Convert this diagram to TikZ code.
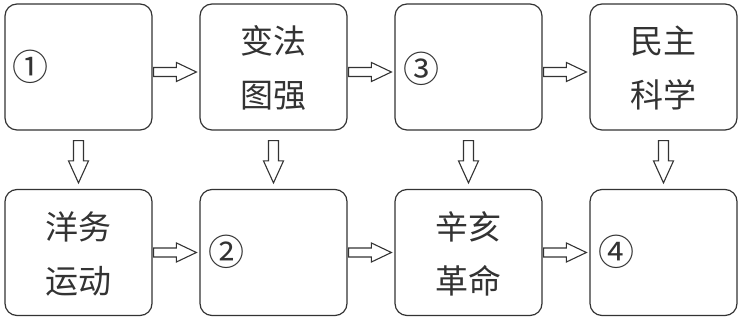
\documentclass[tikz,border=0pt]{standalone}
\usepackage{fontspec}
\newfontfamily\cjk{Noto Sans CJK SC}
\usetikzlibrary{calc}
\definecolor{ink}{HTML}{333333}
\tikzset{
  stagebox/.style={draw=ink, line width=1.2pt, rounded corners=12pt, minimum width=147pt, minimum height=126pt, inner sep=0pt},
  cjktext/.style={text=ink, font=\cjk\fontsize{33pt}{54pt}\selectfont, align=center, inner sep=0pt},
  circnum/.style={text=ink, font=\cjk\fontsize{36pt}{36pt}\selectfont, inner sep=0pt},
  blk/.style={draw=ink, line width=1.1pt, fill=white, line join=miter}
}
\newcommand\hblock[3]{% from node, to node, vertical offset (pt, image downwards positive)
  \draw[blk] let \p1=($(#1.east)+(1pt,-#3 pt)$), \p2=($(#2.west)+(-3pt,-#3 pt)$) in
    (\x1,\y1+4.5pt) -- (\x2-20pt,\y1+4.5pt) -- (\x2-20pt,\y1+9.5pt) -- (\x2,\y1)
    -- (\x2-20pt,\y1-9.5pt) -- (\x2-20pt,\y1-4.5pt) -- (\x1,\y1-4.5pt) -- cycle;}
\newcommand\vblock[2]{% from node (above), to node (below)
  \draw[blk] let \p1=($(#1.south)+(0,-10pt)$), \p2=($(#2.north)+(0,6pt)$) in
    (\x1-5pt,\y1) -- (\x1-5pt,\y2+22pt) -- (\x1-10pt,\y2+22pt) -- (\x1,\y2)
    -- (\x1+10pt,\y2+22pt) -- (\x1+5pt,\y2+22pt) -- (\x1+5pt,\y1) -- cycle;}
\begin{document}
\begin{tikzpicture}[x=1pt,y=1pt]
\useasboundingbox (0,0) rectangle (741,320);
% top row
\node[stagebox] (t1) at (78.5,253) {};
\node[stagebox] (t2) at (273.5,253) {};
\node[stagebox] (t3) at (468.5,253) {};
\node[stagebox] (t4) at (663.5,253) {};
% bottom row
\node[stagebox] (b1) at (78.5,67.5) {};
\node[stagebox] (b2) at (273.5,67.5) {};
\node[stagebox] (b3) at (468.5,67.5) {};
\node[stagebox] (b4) at (663.5,67.5) {};
% labels
\node[circnum] (n1) at ($(t1.west)+(26,0)$) {①};
\node[cjktext] (l2) at ($(t2.center)+(0,-1)$) {变法\\图强};
\node[circnum] (n3) at ($(t3.west)+(27,-2)$) {③};
\node[cjktext] (l4) at ($(t4.center)+(0,-1)$) {民主\\科学};
\node[cjktext] (l5) at ($(b1.center)+(0,-1)$) {洋务\\运动};
\node[circnum] (n2) at ($(b2.west)+(27,1)$) {②};
\node[cjktext] (l7) at ($(b3.center)+(0,-1)$) {辛亥\\革命};
\node[circnum] (n4) at ($(b4.west)+(27,1)$) {④};
% horizontal arrows
\hblock{t1}{t2}{5}
\hblock{t2}{t3}{5}
\hblock{t3}{t4}{5}
\hblock{b1}{b2}{0}
\hblock{b2}{b3}{0}
\hblock{b3}{b4}{0}
% vertical arrows
\vblock{t1}{b1}
\vblock{t2}{b2}
\vblock{t3}{b3}
\vblock{t4}{b4}
\end{tikzpicture}
\end{document}
